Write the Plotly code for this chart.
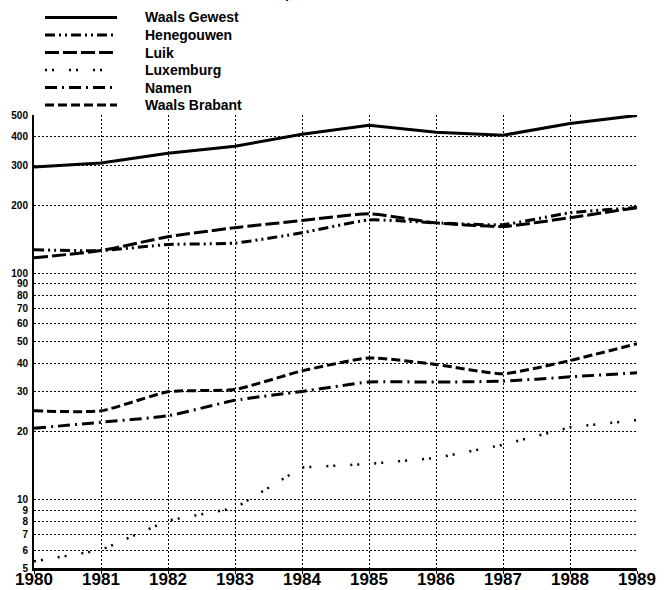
import plotly.graph_objects as go

jaren = list(range(1980, 1990))

waals_gewest = [295, 307, 339, 364, 411, 450, 420, 407, 459, 498]
henegouwen = [127, 126, 134, 136, 151, 172, 167, 164, 185, 195]
luik = [117, 126, 145, 159, 171, 183, 167, 161, 176, 195]
luxemburg = [5.35, 6.0, 8.1, 9.2, 13.9, 14.4, 15.3, 17.5, 20.9, 22.5]
namen = [20.7, 22.0, 23.5, 27.5, 30.1, 33.1, 33.1, 33.4, 34.9, 36.4]
waals_brabant = [24.7, 24.7, 30.0, 30.7, 37.1, 42.3, 39.6, 36.0, 41.2, 48.9]

y_ticks = [5, 6, 7, 8, 9, 10, 20, 30, 40, 50, 60, 70, 80, 90, 100, 200, 300, 400, 500]

FONT = "Liberation Sans, Arial, sans-serif"

reeksen = [
    ("Waals Gewest", waals_gewest, "solid", 3, "linear"),
    ("Henegouwen", henegouwen, "10px,4px,2px,4px,2px,4px", 3, "spline"),
    ("Luik", luik, "14px,4px", 3, "spline"),
    ("Luxemburg", luxemburg, "2px,5px,2px,15px", 2.5, "linear"),
    ("Namen", namen, "12px,5px,2px,5px", 3, "spline"),
    ("Waals Brabant", waals_brabant, "9px,4px", 3, "spline"),
]

fig = go.Figure()
for naam, vals, dash, w, shape in reeksen:
    fig.add_scatter(x=jaren, y=vals, mode="lines", name=naam,
                    line=dict(color="black", width=w, dash=dash, shape=shape, smoothing=0.5),
                    showlegend=False)

# handgemaakte legende (lijnstaal + tekst), posities in pixels omgerekend naar paper
L, T, W, H = 34, 115, 603, 453
def px_x(x):
    return (x - L) / W
def px_y(y):
    return 1 + (T - y) / H

for i, (naam, vals, dash, w, shape) in enumerate(reeksen):
    yy = 17.5 + i * 17.5
    fig.add_shape(type="line", xref="paper", yref="paper",
                  x0=px_x(45), x1=px_x(117), y0=px_y(yy), y1=px_y(yy),
                  line=dict(color="black", width=w, dash=dash))
    fig.add_annotation(text=naam, xref="paper", yref="paper", x=px_x(144), y=px_y(yy),
                       xanchor="left", yanchor="middle", showarrow=False, borderpad=0,
                       font=dict(family=FONT, size=14, color="black", weight="bold"))

# titel valt grotendeels buiten het beeld, zoals in het origineel
fig.add_annotation(text="4.   Waalse provincies en Waals Brabant", xref="paper", yref="paper",
                   x=px_x(343), y=px_y(-7), xanchor="center", yanchor="middle", showarrow=False,
                   font=dict(family=FONT, size=14, color="black", weight="bold"))

fig.update_xaxes(
    range=[1980, 1989], tickvals=jaren, ticktext=[str(j) for j in jaren],
    showgrid=True, gridcolor="black", griddash="2px,2px", gridwidth=1,
    showline=True, linecolor="black", linewidth=3,
    ticks="outside", ticklen=3, tickcolor="black", ticklabelstandoff=-9,
    tickfont=dict(family=FONT, size=17, color="black", weight="bold"),
    zeroline=False, automargin=False,
)
fig.update_yaxes(
    type="log", range=[0.69897, 2.69897], tickvals=y_ticks, ticktext=[str(v) for v in y_ticks],
    showgrid=True, gridcolor="black", griddash="2px,2px", gridwidth=1,
    showline=True, linecolor="black", linewidth=2,
    ticks="", ticklabelstandoff=2,
    tickfont=dict(family=FONT, size=10, color="black", weight="bold"),
    zeroline=False, automargin=False,
)
fig.update_layout(
    width=670, height=590,
    margin=dict(l=34, r=33, t=115, b=22),
    plot_bgcolor="white", paper_bgcolor="white",
    showlegend=False,
)

fig.write_html("out.html", config={"displayModeBar": False},
               post_script="document.body.style.margin='0';")
